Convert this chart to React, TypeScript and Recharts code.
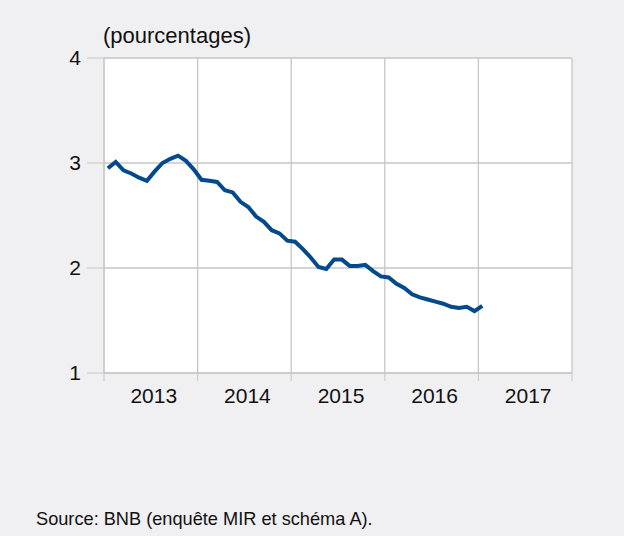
import React from 'react'
import { LineChart, Line, XAxis, YAxis, CartesianGrid } from 'recharts'

// monthly rates, Jan 2013 .. Jan 2017
const rates = [
    2.95, 3.01, 2.93, 2.9, 2.86, 2.83, 2.92, 3.0, 3.04, 3.07, 3.02, 2.94,
    2.84, 2.83, 2.82, 2.74, 2.72, 2.63, 2.58, 2.49, 2.44, 2.36, 2.33, 2.26,
    2.25, 2.18, 2.1, 2.01, 1.99, 2.08, 2.08, 2.02, 2.02, 2.03, 1.97, 1.92,
    1.91, 1.85, 1.81, 1.75, 1.72, 1.7, 1.68, 1.66, 1.63, 1.62, 1.63, 1.59,
    1.64,
]
const yearLabels = ['2013', '2014', '2015', '2016', '2017']
const yTicks = [1, 2, 3, 4]
const xTicks = [0, 12, 24, 36, 48, 60]

const FONT = '"Liberation Sans", Arial, sans-serif'
const GRID = '#c6c6c6'
const LINE = '#034a8c'
const YEAR_W = 468 / 5

const data = rates.map((v, i) => ({ t: i + 0.5, v }))

function YearTick(props: any) {
    const { x, y, payload } = props
    const idx = xTicks.indexOf(payload.value)
    if (idx < 0 || idx >= yearLabels.length) return null
    return (
        <text x={x + YEAR_W / 2 + 3} y={y + 20} textAnchor="middle" fill="#111" fontSize={21} fontFamily={FONT}>
            {yearLabels[idx]}
        </text>
    )
}

export default function App() {
    return (
        <div style={{ position: 'absolute', left: 0, top: 0, width: 624, height: 536, background: '#f0f0f2', fontFamily: FONT }}>
            <div style={{ position: 'absolute', left: 103, top: 25, fontSize: 22, color: '#111', lineHeight: '22px' }}>
                (pourcentages)
            </div>
            <div style={{ position: 'absolute', left: 0, top: 0 }}>
                <LineChart width={624} height={420} data={data} margin={{ top: 58, right: 52, left: 0, bottom: 0 }}>
                    <CartesianGrid stroke={GRID} strokeWidth={1.3} fill="#fff" fillOpacity={1} />
                    <XAxis
                        dataKey="t"
                        type="number"
                        domain={[0, 60]}
                        ticks={xTicks}
                        interval={0}
                        height={47}
                        tickSize={8}
                        stroke={GRID}
                        tickLine={{ stroke: GRID }}
                        tick={<YearTick />}
                    />
                    <YAxis
                        type="number"
                        domain={[1, 4]}
                        ticks={yTicks}
                        interval={0}
                        width={104}
                        tickSize={17}
                        tickMargin={6}
                        stroke={GRID}
                        tick={{ fill: '#111', fontSize: 21, fontFamily: FONT }}
                    />
                    <Line
                        type="linear"
                        dataKey="v"
                        stroke={LINE}
                        strokeWidth={4}
                        dot={false}
                        isAnimationActive={false}
                    />
                </LineChart>
            </div>
            <div style={{ position: 'absolute', left: 36, top: 510, fontSize: 18.2, color: '#111', lineHeight: '18px' }}>
                Source: BNB (enquête MIR et schéma A).
            </div>
        </div>
    )
}
